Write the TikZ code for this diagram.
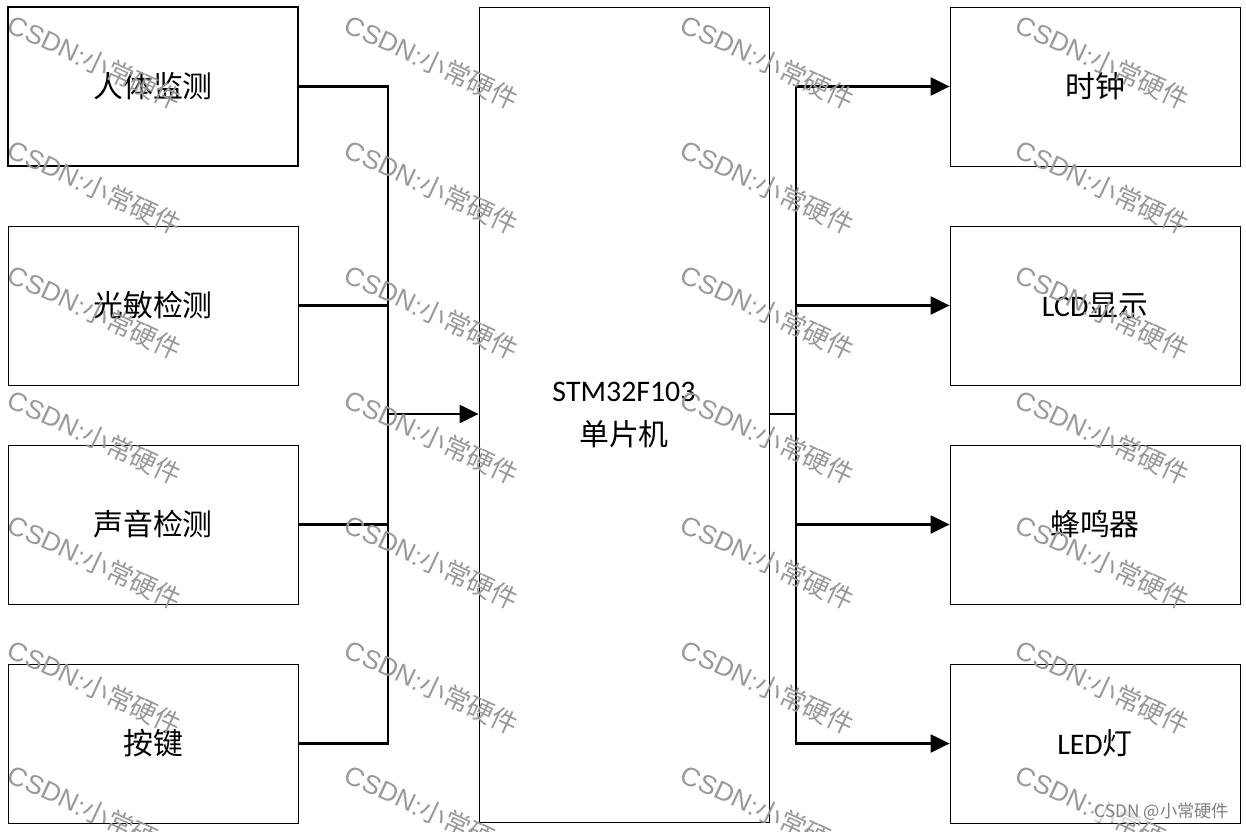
\documentclass[tikz,border=0pt]{standalone}
\usepackage{fontspec}
\setmainfont{Carlito}
\newfontfamily\cjk{Noto Sans CJK SC}
\newfontfamily\wmfont{Liberation Sans}
\usepackage{tikz}
\usetikzlibrary{arrows.meta, positioning}

\begin{document}
\begin{tikzpicture}[x=0.02cm, y=-0.02cm,
		blk/.style={shape=rectangle, draw, line width=0.5pt, minimum width=5.8cm, minimum height=3.18cm, font=\fontsize{17}{25}\selectfont},
		bus/.style={line width=1.3pt},
		feed/.style={bus, -{Triangle[length=0.38cm, width=0.36cm]}},
		wm/.style={text=black!40, rotate=-25, inner sep=0pt, font=\wmfont\fontsize{15}{18}\selectfont}]
		\useasboundingbox (0,0) rectangle (1246,831);
		% Blocks:
		\node[blk, line width=1.2pt](rtjc) at (153, 86.5){\cjk 人体监测};
		\node[blk](gmjc) at (153, 305.5){\cjk 光敏检测};
		\node[blk](syjc) at (153, 524.5){\cjk 声音检测};
		\node[blk](anjian) at (153, 743.5){\cjk 按键};
		\node[blk, minimum height=16.32cm, align=center](mcu) at (624, 415){STM32F103\\{\cjk 单片机}};
		\node[blk](shizhong) at (1095, 86.5){\cjk 时钟};
		\node[blk](lcd) at (1095, 305.5){LCD{\cjk 显示}};
		\node[blk](fmq) at (1095, 524.5){\cjk 蜂鸣器};
		\node[blk](led) at (1095, 743.5){LED{\cjk 灯}};
		% Wires:
		\coordinate (busL) at (388, 414);
		\coordinate (busR) at (796, 414);
		\draw[bus] (rtjc.east) -| (busL);
		\draw[bus] (gmjc.east) -| (busL);
		\draw[bus] (syjc.east) -| (busL);
		\draw[bus] (anjian.east) -| (busL);
		\draw[feed] (busL) -- (busL -| mcu.west);
		\draw[bus] (busR -| mcu.east) -- (busR);
		\draw[feed] (busR) |- (shizhong.west);
		\draw[feed] (busR) |- (lcd.west);
		\draw[feed] (busR) |- (fmq.west);
		\draw[feed] (busR) |- (led.west);
		% Watermark:
		\foreach \wx in {95, 432, 768, 1103}
			\foreach \wy in {62, 187, 312, 437, 562, 687, 812}
				\node[wm](wm-\wx-\wy) at (\wx, \wy){CSDN:{\cjk 小常硬件}};
		\node[text=black!50, fill=white, fill opacity=0.6, text opacity=1, inner sep=1pt, font=\cjk\fontsize{9.8}{11}\selectfont](sign) at (1162, 812){CSDN @小常硬件};
	\end{tikzpicture}
\end{document}
